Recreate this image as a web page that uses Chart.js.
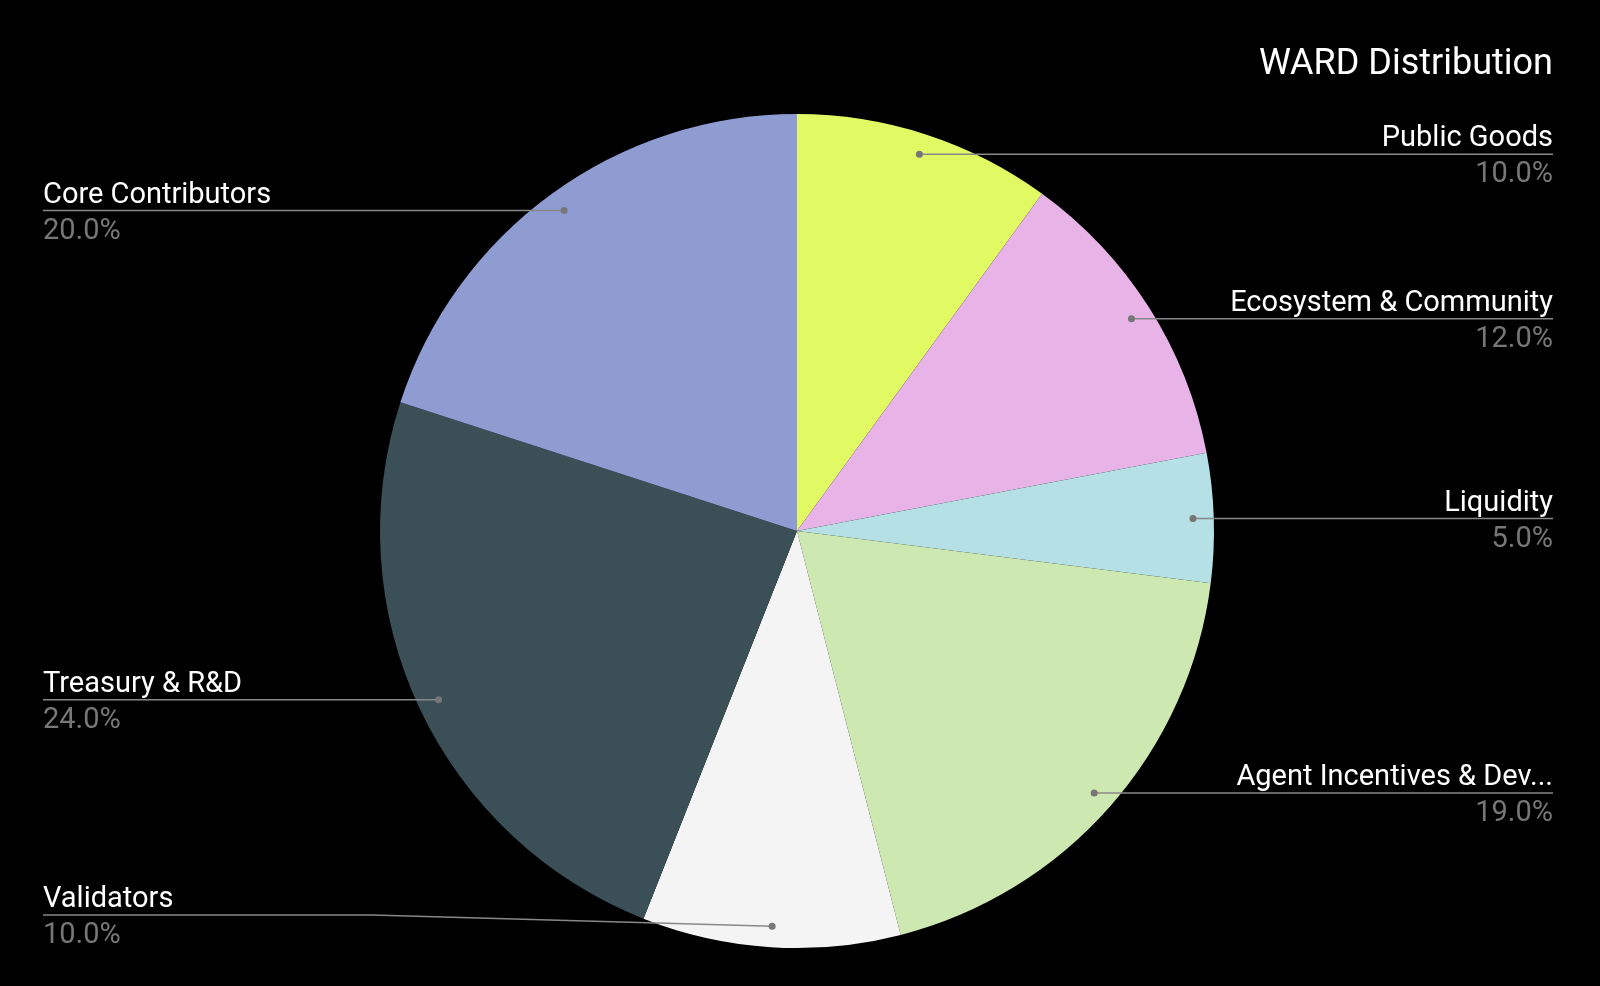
<!DOCTYPE html>
<html><head><meta charset="utf-8">
<script src="https://cdn.jsdelivr.net/npm/chart.js@4"></script>
<style>html,body{margin:0;background:#000;overflow:hidden}canvas{display:block}</style>
</head><body><div style="width:1600px;height:986px"><canvas id="c"></canvas></div>
<script>
const categories = ["Public Goods","Ecosystem & Community","Liquidity","Agent Incentives & Dev...","Validators","Treasury & R&D","Core Contributors"];
const values = [10,12,5,19,10,24,20];
const colors = ["#e1fa64","#e8b4e8","#b4e0e6","#cde8b0","#f4f4f4","#3a4f56","#8f9cd2"];
const title = "WARD Distribution";

const labelPlugin = {
  id:'labels',
  afterDraw(chart){
    const ctx = chart.ctx, meta = chart.getDatasetMeta(0);
    const total = values.reduce((a,b)=>a+b,0);
    ctx.save();
    ctx.fillStyle='#fff'; ctx.font='36px Roboto'; ctx.textAlign='right'; ctx.textBaseline='alphabetic';
    ctx.fillText(title,1553,74);
    meta.data.forEach((arc,i)=>{
      const mid=(arc.startAngle+arc.endAngle)/2, r=arc.outerRadius*0.95;
      const dx=arc.x+Math.cos(mid)*r, dy=arc.y+Math.sin(mid)*r;
      const right = Math.cos(mid)>=0;
      const ly = Math.min(dy, 915);
      const ex = right?1553:43;
      ctx.strokeStyle='#888'; ctx.lineWidth=1.5;
      ctx.beginPath(); ctx.moveTo(dx,dy);
      if(ly!==dy){ ctx.lineTo(372,ly); }
      ctx.lineTo(ex,ly); ctx.stroke();
      ctx.fillStyle='#777'; ctx.beginPath(); ctx.arc(dx,dy,3.5,0,Math.PI*2); ctx.fill();
      ctx.textAlign=right?'right':'left';
      ctx.font='29px Roboto'; ctx.fillStyle='#fff';
      ctx.fillText(categories[i],ex,ly-8);
      ctx.fillStyle='#777';
      ctx.fillText((values[i]/total*100).toFixed(1)+'%',ex,ly+28);
    });
    ctx.restore();
  }
};

new Chart(document.getElementById('c'),{
  type:'pie',
  data:{labels:categories,datasets:[{data:values,backgroundColor:colors,borderWidth:0}]},
  options:{responsive:true,maintainAspectRatio:false,animation:false,
    layout:{padding:{left:380,right:386,top:114,bottom:38}},
    plugins:{legend:{display:false},tooltip:{enabled:false}}},
  plugins:[labelPlugin]
});
</script></body></html>
